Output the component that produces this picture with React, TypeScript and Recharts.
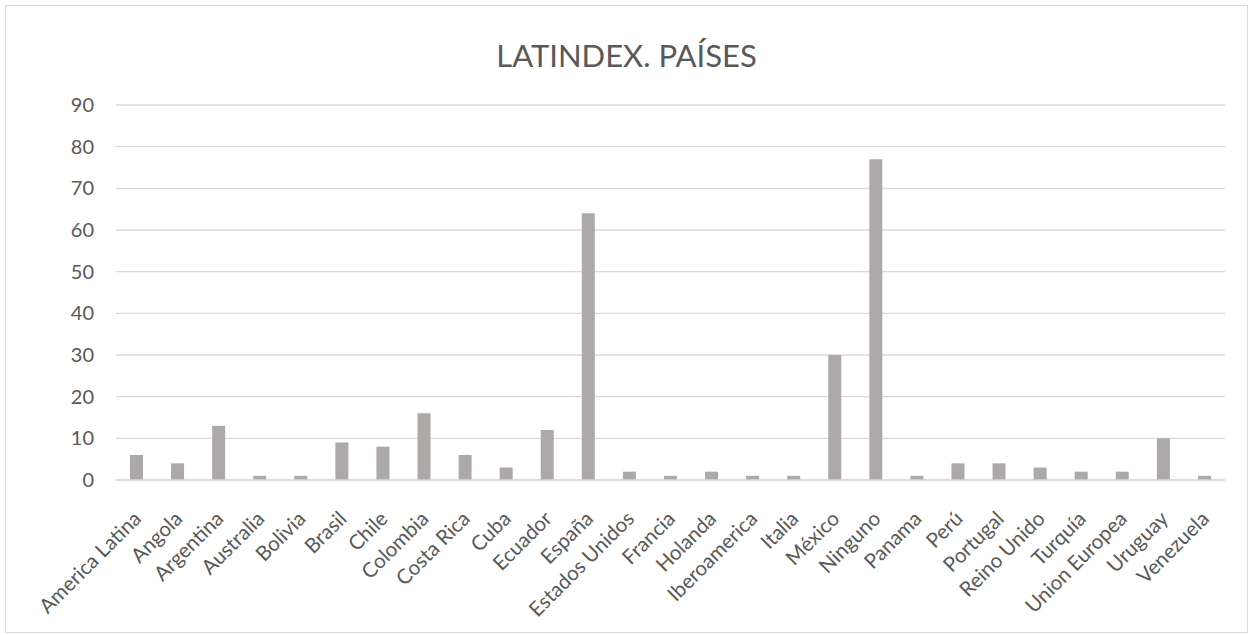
import { Bar, BarChart, CartesianGrid, XAxis, YAxis } from "recharts";

const countries = [
  "America Latina",
  "Angola",
  "Argentina",
  "Australia",
  "Bolivia",
  "Brasil",
  "Chile",
  "Colombia",
  "Costa Rica",
  "Cuba",
  "Ecuador",
  "España",
  "Estados Unidos",
  "Francia",
  "Holanda",
  "Iberoamerica",
  "Italia",
  "México",
  "Ninguno",
  "Panama",
  "Perú",
  "Portugal",
  "Reino Unido",
  "Turquía",
  "Union Europea",
  "Uruguay",
  "Venezuela",
];

const counts = [6, 4, 13, 1, 1, 9, 8, 16, 6, 3, 12, 64, 2, 1, 2, 1, 1, 30, 77, 1, 4, 4, 3, 2, 2, 10, 1];

const yTicks = [0, 10, 20, 30, 40, 50, 60, 70, 80, 90];

const data = countries.map((pais, i) => ({ pais, valor: counts[i] }));

const FONT = "Lato, 'Open Sans', sans-serif";
const TEXT = "#595959";

const CountryTick = (props: any) => {
  const { x, y, payload } = props;
  return (
    <g transform={`translate(${x + 6},${y + 32})`}>
      <text
        x={0}
        y={0}
        textAnchor="end"
        transform="rotate(-45)"
        fontSize={20.5}
        fontFamily={FONT}
        fill={TEXT}
      >
        {payload.value}
      </text>
    </g>
  );
};

export default function App() {
  return (
    <div
      style={{
        position: "fixed",
        left: 0,
        top: 0,
        width: 1253,
        height: 635,
        background: "#fff",
      }}
    >
      <div
        style={{
          position: "absolute",
          left: 5,
          top: 5,
          width: 1241,
          height: 626,
          border: "1px solid #d9d9d9",
          background: "#fff",
        }}
      >
        <div
          style={{
            position: "absolute",
            left: 0,
            right: 0,
            top: 30,
            textAlign: "center",
            fontFamily: FONT,
            fontSize: 31,
            color: TEXT,
            lineHeight: "38px",
          }}
        >
          LATINDEX. PAÍSES
        </div>
        <BarChart
          width={1241}
          height={626}
          data={data}
          margin={{ top: 99, right: 22, left: 49, bottom: 0 }}
          barCategoryGap={0}
        >
          <CartesianGrid vertical={false} stroke="#d9d9d9" strokeWidth={1.3} />
          <XAxis
            dataKey="pais"
            interval={0}
            tickLine={false}
            axisLine={{ stroke: "#d9d9d9", strokeWidth: 1.3 }}
            height={152}
            tick={<CountryTick />}
          />
          <YAxis
            domain={[0, 90]}
            ticks={yTicks}
            width={61}
            tickLine={false}
            axisLine={false}
            tickSize={0}
            tickMargin={22}
            tick={{ fontSize: 20, fontFamily: FONT, fill: TEXT }}
          />
          <Bar dataKey="valor" fill="#ADA9A8" barSize={13} isAnimationActive={false} />
        </BarChart>
      </div>
    </div>
  );
}
